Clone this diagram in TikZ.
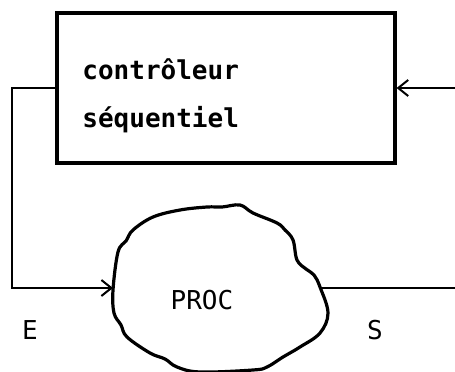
\documentclass[tikz,border=0pt]{standalone}
\usepackage{fontspec}
\setmainfont{DejaVu Sans Mono}
\usetikzlibrary{arrows.meta}
\tikzset{
  wire/.style={line width=1pt, -{Straight Barb[length=5pt,width=8pt]}},
  lbl/.style={font=\fontsize{13}{24}\selectfont, inner sep=0pt},
}
\begin{document}
\begin{tikzpicture}[x=0.5pt,y=0.5pt]
\clip (0,0) rectangle (455,371);
\useasboundingbox (0,0) rectangle (455,371);
% controleur
\node[draw, line width=1.6pt, minimum width=169pt, minimum height=75pt, inner sep=0pt] (ctrl) at (226,283) {};
\node[lbl, font=\fontsize{13}{24}\selectfont\bfseries, anchor=west, align=left] (ctrltxt) at (82,275) {contrôleur\\séquentiel};
% processus
\draw[line width=1.6pt] plot[smooth cycle, tension=0.6] coordinates {
  (113,81) (114,58) (121,46) (127,34) (150,18) (165,12) (177,4) (200,-1) (253,1) (267,4) (283,14)
  (300,24) (320,38) (328,58) (320,84) (314,96) (306,102) (297,111) (293,131) (285,141) (277,148)
  (253,158) (240,166) (222,164) (207,164) (180,161) (153,154) (133,141) (126,130) (118,119)};
\node[lbl] (proc) at (202,71) {PROC};
\coordinate (procin) at (113,83);
\coordinate (procout) at (320,83);
\coordinate (back) at (455,283);
\coordinate (sout) at (455,83);
% liaisons
\draw[wire] (ctrl.west |- 0,283) -- (12,283) -- (12,83) -- (procin);
\draw[line width=1pt] (procout) -- (sout);
\draw[wire] (back) -- (ctrl.east);
\node[lbl] (e) at (30,41) {E};
\node[lbl] (s) at (375,41) {S};
\end{tikzpicture}
\end{document}
